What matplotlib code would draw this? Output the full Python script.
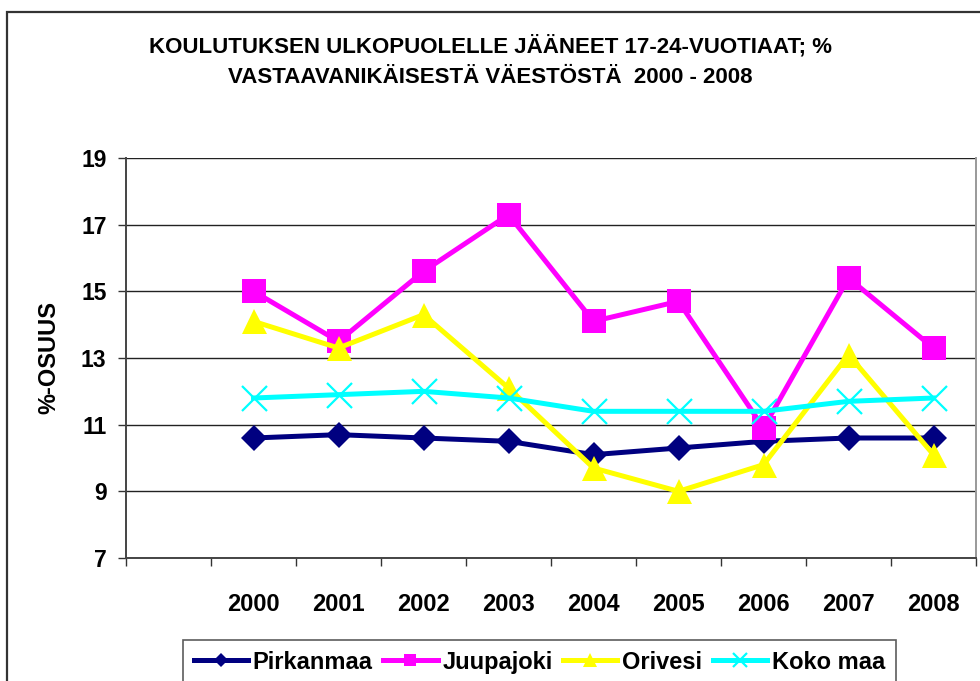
import matplotlib
matplotlib.use("Agg")
import matplotlib.pyplot as plt
from matplotlib.patches import Rectangle

plt.rcParams["font.family"] = ["Liberation Sans", "DejaVu Sans"]
plt.rcParams["font.weight"] = "bold"

# data
years = ["", "2000", "2001", "2002", "2003", "2004", "2005", "2006", "2007", "2008"]
pirkanmaa = [10.6, 10.7, 10.6, 10.5, 10.1, 10.3, 10.5, 10.6, 10.6]
juupajoki = [15.0, 13.5, 15.6, 17.3, 14.1, 14.7, 10.9, 15.4, 13.3]
orivesi = [14.1, 13.3, 14.3, 12.1, 9.7, 9.0, 9.8, 13.1, 10.1]
koko_maa = [11.8, 11.9, 12.0, 11.8, 11.4, 11.4, 11.4, 11.7, 11.8]

title = ("KOULUTUKSEN ULKOPUOLELLE JÄÄNEET 17-24-VUOTIAAT; %\n"
         "VASTAAVANIKÄISESTÄ VÄESTÖSTÄ  2000 - 2008")

fig = plt.figure(figsize=(9.8, 6.81), dpi=100)
ax = fig.add_axes([126 / 980, 1 - 558 / 681, 850 / 980, 400 / 681])

# outer chart-area border (runs off the right and bottom edges)
fig.patches.append(Rectangle((7 / 980, -0.1), 1.2, 1 - 12 / 681 + 0.1,
                             transform=fig.transFigure, fill=False,
                             edgecolor="#333333", lw=1.6, clip_on=False))

x = list(range(1, len(years)))
series = [
    ("Pirkanmaa", pirkanmaa, "#000080", "D", 13, 0),
    ("Juupajoki", juupajoki, "#FF00FF", "s", 17, 0),
    ("Orivesi", orivesi, "#FFFF00", "^", 18, 0),
    ("Koko maa", koko_maa, "#00FFFF", "x", 18, 1.6),
]
handles = []
for name, vals, col, mk, ms, mew in series:
    ax.plot(x, vals, color=col, lw=3.6, marker=mk, ms=ms,
            markeredgewidth=mew if mew else 0, markerfacecolor=col,
            markeredgecolor=col, zorder=3)
    h, = plt.plot([], [], color=col, lw=3.6, marker=mk, ms=ms * 0.55,
                  markeredgewidth=mew if mew else 0, markerfacecolor=col,
                  markeredgecolor=col)
    h.set_label(name)
    handles.append(h)

ax.set_xlim(-0.5, len(years) - 0.5)
ax.set_ylim(7, 19)
ax.set_yticks(range(7, 20, 2))
ax.set_xticks(range(len(years)))
ax.set_xticklabels(years)
ax.set_xticks([i - 0.5 for i in range(len(years) + 1)], minor=True)
ax.tick_params(axis="x", which="major", length=0, pad=25, labelsize=17)
ax.tick_params(axis="x", which="minor", length=6, width=1, color="#333333")
ax.tick_params(axis="y", length=6, width=1, color="#333333", pad=8, labelsize=16.5)

ax.yaxis.grid(True, color="#222222", lw=1)
ax.set_axisbelow(True)
for side in ("left", "bottom"):
    ax.spines[side].set_color("#444444")
    ax.spines[side].set_linewidth(1.4)
ax.spines["right"].set_color("#999999")
ax.spines["right"].set_linewidth(1.4)
ax.spines["top"].set_visible(False)

ax.set_ylabel("%-OSUUS", fontsize=17, fontweight="bold")
ax.yaxis.set_label_coords(-66 / 850, 0.5)

fig.text(0.5, 1 - 61.5 / 681, title, ha="center", va="center",
         fontsize=16, fontweight="bold", linespacing=1.65)

leg = fig.legend(handles=handles, loc="upper left", ncol=4,
                 bbox_to_anchor=(183 / 980, 1 - 640 / 681),
                 frameon=True, fancybox=False, fontsize=17,
                 handlelength=2.3, handletextpad=0.2, columnspacing=0.45,
                 borderaxespad=0, borderpad=0.45)
leg.get_frame().set_edgecolor("#333333")
leg.get_frame().set_linewidth(1.2)

fig.savefig("out.png", dpi=100)
